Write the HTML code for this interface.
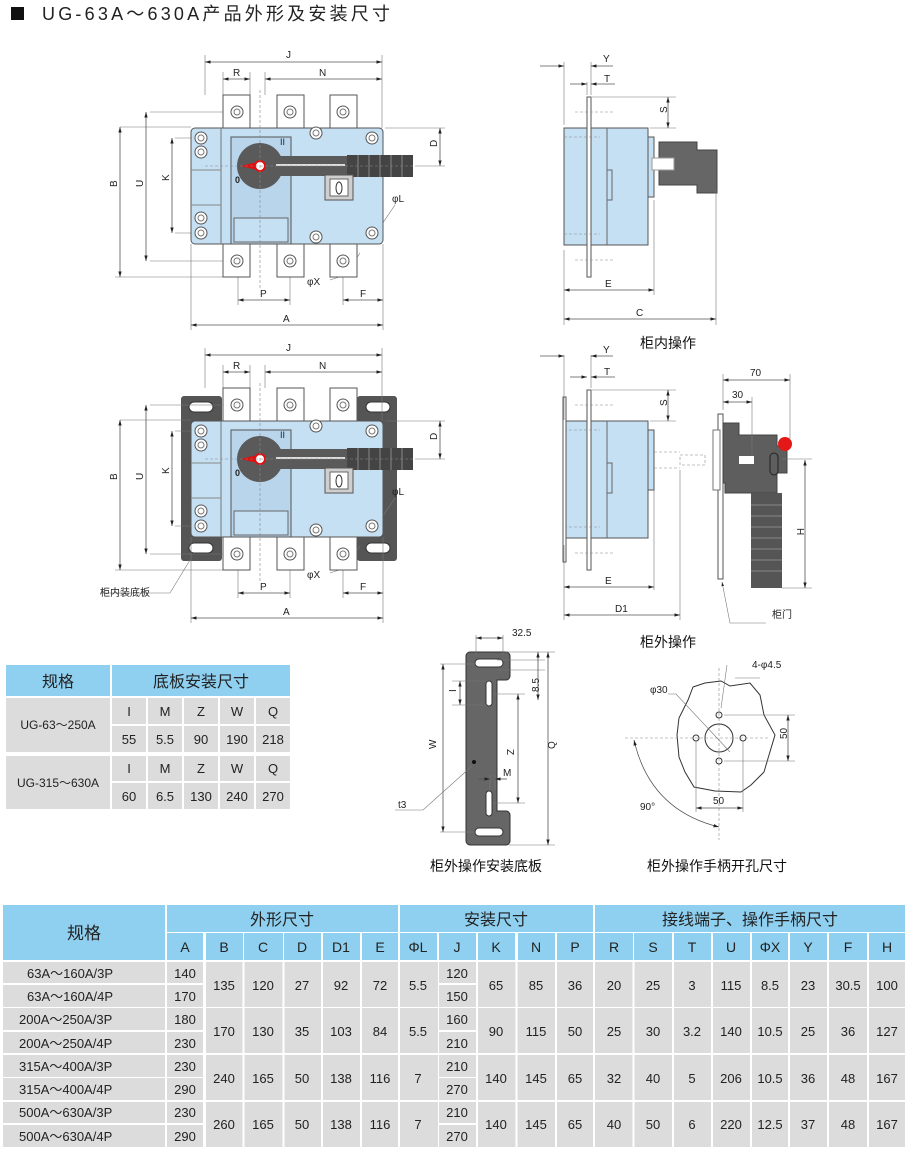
<!DOCTYPE html>
<html><head><meta charset="utf-8"><style>
body{margin:0;background:#fff;}
svg{display:block;font-family:"Liberation Sans","Noto Sans CJK SC",sans-serif;}
.d{stroke:#555;stroke-width:.8;fill:none}
.e{stroke:#777;stroke-width:.6;fill:none}
.c{stroke:#888;stroke-width:.6;stroke-dasharray:3 2;fill:none}
.t{font-size:10px;fill:#222}
.h{font-size:14px;fill:#111}
</style></head><body>
<svg width="910" height="1153" viewBox="0 0 910 1153" xmlns="http://www.w3.org/2000/svg">
<defs>
<marker id="a" viewBox="0 0 10 10" refX="10" refY="5" markerWidth="7" markerHeight="7" orient="auto-start-reverse"><path d="M0,2 L10,5 L0,8z" fill="#222"/></marker>
<g id="scr"><circle r="6" fill="#fff" stroke="#555"/><circle r="3" fill="none" stroke="#777"/></g>
<g id="front">
 <rect x="223" y="95" width="27" height="33" fill="#fff" stroke="#555"/>
 <rect x="277" y="95" width="27" height="33" fill="#fff" stroke="#555"/>
 <rect x="330" y="95" width="27" height="33" fill="#fff" stroke="#555"/>
 <rect x="223" y="244" width="27" height="33" fill="#fff" stroke="#555"/>
 <rect x="277" y="244" width="27" height="33" fill="#fff" stroke="#555"/>
 <rect x="330" y="244" width="27" height="33" fill="#fff" stroke="#555"/>
 <use href="#scr" x="237" y="112"/><use href="#scr" x="290" y="112"/><use href="#scr" x="343" y="112"/>
 <use href="#scr" x="237" y="261"/><use href="#scr" x="290" y="261"/><use href="#scr" x="343" y="261"/>
 <rect x="191" y="128" width="192" height="116" rx="4" fill="#c5dff3" stroke="#555"/>
 <line x1="221" y1="128" x2="221" y2="244" stroke="#777"/>
 <line x1="191" y1="170" x2="221" y2="170" stroke="#888"/>
 <line x1="191" y1="205" x2="221" y2="205" stroke="#888"/>
 <rect x="231" y="137" width="60" height="107" fill="#b9d5ec" stroke="#555"/>
 <rect x="234" y="218" width="54" height="24" fill="#c5dff3" stroke="#666"/>
 <circle cx="260" cy="166" r="23" fill="#5a5a5a"/>
 <rect x="260" y="156" width="90" height="20" fill="#5a5a5a"/>
 <line x1="276" y1="165" x2="345" y2="165" stroke="#ddd" stroke-width="2"/>
 <rect x="347" y="155" width="66" height="22" fill="#444"/>
 <path d="M358 155V177M369 155V177M380 155V177M391 155V177M402 155V177" stroke="#888"/>
 <polygon points="240,166 258,162 258,170" fill="#e01010"/>
 <circle cx="260" cy="166" r="5" fill="#fff" stroke="#e01010" stroke-width="2"/>
 <rect x="325" y="175" width="28" height="25" fill="#cfcfcf" stroke="#555"/>
 <rect x="330" y="179" width="18" height="17" fill="#fff" stroke="#666"/>
 <ellipse cx="339" cy="188" rx="3" ry="6" fill="none" stroke="#333"/>
 <use href="#scr" x="201" y="138"/><use href="#scr" x="201" y="152"/><use href="#scr" x="201" y="218"/><use href="#scr" x="201" y="233"/>
 <use href="#scr" x="316" y="133"/><use href="#scr" x="372" y="138"/><use href="#scr" x="316" y="237"/><use href="#scr" x="372" y="233"/>
 <line x1="260" y1="90" x2="260" y2="290" class="c"/>
 <line x1="205" y1="166" x2="415" y2="166" class="c"/>
</g>
<g id="fdim">
 <path d="M205 55V95M382 55V128M223 72V95M250 72V95M265 72V95M191 127H120M175 138H200M150 112H230M115 277H230M150 261H230M175 233H200M385 128H445M415 166H445M238 277V305M290 277V305M343 277V305M383 244V330M191 244V330" class="e"/>
 <line x1="205" y1="62" x2="382" y2="62" class="d" marker-start="url(#a)" marker-end="url(#a)"/>
 <line x1="223" y1="79" x2="250" y2="79" class="d" marker-start="url(#a)" marker-end="url(#a)"/>
 <line x1="265" y1="79" x2="382" y2="79" class="d" marker-start="url(#a)" marker-end="url(#a)"/>
 <line x1="120" y1="127" x2="120" y2="277" class="d" marker-start="url(#a)" marker-end="url(#a)"/>
 <line x1="146" y1="112" x2="146" y2="261" class="d" marker-start="url(#a)" marker-end="url(#a)"/>
 <line x1="172" y1="138" x2="172" y2="233" class="d" marker-start="url(#a)" marker-end="url(#a)"/>
 <line x1="440" y1="128" x2="440" y2="166" class="d" marker-start="url(#a)" marker-end="url(#a)"/>
 <line x1="238" y1="300" x2="290" y2="300" class="d" marker-start="url(#a)" marker-end="url(#a)"/>
 <line x1="343" y1="300" x2="383" y2="300" class="d" marker-start="url(#a)" marker-end="url(#a)"/>
 <line x1="191" y1="325" x2="383" y2="325" class="d" marker-start="url(#a)" marker-end="url(#a)"/>
 <path d="M395 205L378 230M360 253L345 275L330 280" class="e"/>
</g>
<g id="side">
 <rect x="564" y="128" width="84" height="117" fill="#c5dff3" stroke="#555"/>
 <path d="M607 128V245M607 170h5v30h-5" stroke="#666" fill="none"/>
 <rect x="587" y="97" width="4" height="180" fill="#fff" stroke="#555"/>
 <line x1="564" y1="137" x2="600" y2="137" class="c"/><line x1="564" y1="234" x2="600" y2="234" class="c"/>
 <line x1="575" y1="112" x2="615" y2="112" class="c"/><line x1="575" y1="260" x2="615" y2="260" class="c"/>
 <rect x="648" y="137" width="6" height="60" fill="#c5dff3" stroke="#555"/>
</g>
</defs>

<!-- title -->
<rect x="11" y="7" width="13" height="13" fill="#111"/>
<text x="42" y="20" font-size="18" fill="#222" textLength="348" lengthAdjust="spacing">UG-63A～630A产品外形及安装尺寸</text>

<!-- front view 1 -->
<use href="#fdim"/>
<use href="#front"/>
<g class="t">
<text x="286" y="58">J</text><text x="233" y="76">R</text><text x="319" y="76">N</text>
<text x="114" y="190" transform="rotate(-90 114 187)">B</text>
<text x="140" y="190" transform="rotate(-90 140 187)">U</text>
<text x="166" y="184" transform="rotate(-90 166 181)">K</text>
<text x="434" y="150" transform="rotate(-90 434 147)">D</text>
<text x="260" y="297">P</text><text x="360" y="297">F</text><text x="283" y="322">A</text>
<text x="392" y="202">φL</text><text x="307" y="285">φX</text>
<text x="280" y="145" font-size="9">II</text><text x="235" y="183" font-size="9" font-weight="bold">0</text>
</g>

<!-- front view 2 -->
<g transform="translate(0,293)">
<rect x="181" y="103" width="41" height="165" rx="3" fill="#555"/>
<rect x="357" y="103" width="40" height="165" rx="3" fill="#555"/>
<rect x="189" y="109" width="24" height="10" rx="5" fill="#fff" stroke="#333"/>
<rect x="189" y="250" width="24" height="10" rx="5" fill="#fff" stroke="#333"/>
<rect x="366" y="109" width="24" height="10" rx="5" fill="#fff" stroke="#333"/>
<rect x="366" y="250" width="24" height="10" rx="5" fill="#fff" stroke="#333"/>
<use href="#fdim"/>
<use href="#front"/>
<g class="t">
<text x="286" y="58">J</text><text x="233" y="76">R</text><text x="319" y="76">N</text>
<text x="114" y="190" transform="rotate(-90 114 187)">B</text>
<text x="140" y="190" transform="rotate(-90 140 187)">U</text>
<text x="166" y="184" transform="rotate(-90 166 181)">K</text>
<text x="434" y="150" transform="rotate(-90 434 147)">D</text>
<text x="260" y="297">P</text><text x="360" y="297">F</text><text x="283" y="322">A</text>
<text x="392" y="202">φL</text><text x="307" y="285">φX</text>
<text x="280" y="145" font-size="9">II</text><text x="235" y="183" font-size="9" font-weight="bold">0</text>
</g>
<path d="M190 267L170 300H100" class="e"/>
</g>
<text x="100" y="596" class="t" font-size="11">柜内装底板</text>

<!-- side view 1 -->
<use href="#side"/>
<path d="M659 142h38v8h20v43h-20v-8h-38z" fill="#666" stroke="#444"/>
<rect x="652" y="158" width="22" height="12" fill="#fff" stroke="#999"/>
<path d="M564 62V125M591 62V95M587 82V95M592 97H676M650 128H676M564 250V325M654 200V295M716 190V325" class="e"/>
<line x1="540" y1="66" x2="564" y2="66" class="d" marker-end="url(#a)"/><line x1="613" y1="66" x2="591" y2="66" class="d" marker-end="url(#a)"/>
<line x1="570" y1="84" x2="587" y2="84" class="d" marker-end="url(#a)"/><line x1="615" y1="84" x2="591" y2="84" class="d" marker-end="url(#a)"/>
<line x1="668" y1="97" x2="668" y2="128" class="d" marker-start="url(#a)" marker-end="url(#a)"/>
<line x1="564" y1="290" x2="654" y2="290" class="d" marker-start="url(#a)" marker-end="url(#a)"/>
<line x1="564" y1="319" x2="716" y2="319" class="d" marker-start="url(#a)" marker-end="url(#a)"/>
<g class="t"><text x="603" y="62">Y</text><text x="604" y="82">T</text><text x="664" y="116" transform="rotate(-90 664 113)">S</text>
<text x="605" y="287">E</text><text x="636" y="316">C</text></g>
<text x="640" y="348" class="h" font-size="13">柜内操作</text>

<!-- side view 2 -->
<g transform="translate(0,293)"><use href="#side"/></g>
<rect x="563" y="397" width="3" height="165" fill="#fff" stroke="#555"/>
<path d="M654 452H680M654 468H680M680 455h25v10h-25z" class="c"/>
<path d="M564 355V420M591 355V388M564 545V620M654 490V590M680 470V620" class="e"/>
<line x1="540" y1="356" x2="564" y2="356" class="d" marker-end="url(#a)"/><line x1="613" y1="356" x2="591" y2="356" class="d" marker-end="url(#a)"/>
<line x1="570" y1="377" x2="587" y2="377" class="d" marker-end="url(#a)"/><line x1="615" y1="377" x2="591" y2="377" class="d" marker-end="url(#a)"/>
<path d="M592 390H676M650 421H676" class="e"/>
<line x1="668" y1="390" x2="668" y2="421" class="d" marker-start="url(#a)" marker-end="url(#a)"/>
<line x1="564" y1="587" x2="654" y2="587" class="d" marker-start="url(#a)" marker-end="url(#a)"/>
<line x1="564" y1="615" x2="680" y2="615" class="d" marker-start="url(#a)" marker-end="url(#a)"/>
<g class="t"><text x="603" y="353">Y</text><text x="604" y="375">T</text><text x="664" y="409" transform="rotate(-90 664 406)">S</text>
<text x="605" y="584">E</text><text x="615" y="612">D1</text></g>
<text x="640" y="647" class="h" font-size="13">柜外操作</text>

<!-- external handle -->
<rect x="718" y="414" width="5" height="165" fill="#fff" stroke="#555"/>
<rect x="713" y="430" width="7" height="60" fill="#fff" stroke="#777"/>
<path d="M723 423h16v12h38v11h10v27h-10v20h-52v-10h-2z" fill="#5e5e5e" stroke="#444"/>
<rect x="739" y="456" width="15" height="8" fill="#fff"/>
<rect x="770" y="453" width="8" height="22" rx="4" fill="none" stroke="#222"/>
<circle cx="785" cy="444" r="7" fill="#e41818"/>
<rect x="751" y="493" width="31" height="95" fill="#555"/>
<path d="M751 505H782M751 516H782M751 527H782M751 538H782M751 549H782M751 560H782M751 571H782" stroke="#888"/>
<path d="M723 374V410M790 374V440M752 397V455M782 459H812M782 588H812" class="e"/>
<line x1="723" y1="380" x2="790" y2="380" class="d" marker-start="url(#a)" marker-end="url(#a)"/>
<line x1="723" y1="402" x2="752" y2="402" class="d" marker-start="url(#a)" marker-end="url(#a)"/>
<line x1="805" y1="460" x2="805" y2="588" class="d" marker-start="url(#a)" marker-end="url(#a)"/>
<path d="M766 623H730L722 582" class="e" marker-end="url(#a)"/>
<g class="t"><text x="750" y="376">70</text><text x="732" y="398">30</text>
<text x="800" y="531" transform="rotate(90 800 528)">H</text><text x="772" y="618">柜门</text></g>

<!-- mounting plate -->
<path d="M470 652h36a4 4 0 0 1 4 4v20a4 4 0 0 1-4 4h-9v131h9a4 4 0 0 1 4 4v26a4 4 0 0 1-4 4h-36a4 4 0 0 1-4-4v-185a4 4 0 0 1 4-4z" fill="#666" stroke="#333"/>
<rect x="475" y="659" width="28" height="8" rx="4" fill="#fff" stroke="#333"/>
<rect x="475" y="828" width="28" height="8" rx="4" fill="#fff" stroke="#333"/>
<rect x="486" y="681" width="6" height="25" rx="3" fill="#fff" stroke="#333"/>
<rect x="486" y="791" width="6" height="25" rx="3" fill="#fff" stroke="#333"/>
<circle cx="474" cy="762" r="2" fill="#111"/>
<path d="M476 635V655M503 635V655M505 652H555M497 660H545M497 670H545M440 664H475M452 681H488M452 705H488M493 694H525M493 803H525M440 832H475M509 845H555M490 775V790M495 775V790" class="e"/>
<line x1="476" y1="638" x2="503" y2="638" class="d" marker-start="url(#a)" marker-end="url(#a)"/>
<line x1="538" y1="652" x2="538" y2="700" class="d" marker-start="url(#a)" marker-end="url(#a)"/>
<line x1="548" y1="652" x2="548" y2="845" class="d" marker-start="url(#a)" marker-end="url(#a)"/>
<line x1="443" y1="664" x2="443" y2="832" class="d" marker-start="url(#a)" marker-end="url(#a)"/>
<line x1="460" y1="681" x2="460" y2="705" class="d" marker-start="url(#a)" marker-end="url(#a)"/>
<line x1="518" y1="694" x2="518" y2="803" class="d" marker-start="url(#a)" marker-end="url(#a)"/>
<line x1="478" y1="779" x2="490" y2="779" class="d" marker-end="url(#a)"/><line x1="507" y1="779" x2="495" y2="779" class="d" marker-end="url(#a)"/>
<path d="M472 766L423 810H395" class="e"/>
<g class="t"><text x="512" y="636">32.5</text><text x="536" y="695" transform="rotate(-90 536 692)">8.5</text>
<text x="433" y="752" transform="rotate(-90 433 749)">W</text><text x="453" y="695" transform="rotate(-90 453 692)">I</text>
<text x="510" y="752" transform="rotate(90 510 749)">Z</text><text x="552" y="752" transform="rotate(-90 552 749)">Q</text>
<text x="503" y="776">M</text><text x="398" y="808">t3</text></g>
<text x="430" y="871" class="h" font-size="13">柜外操作安装底板</text>

<!-- handle cutout -->
<path d="M693 687L705 683L721 681L730 686L750 683L760 695L764 715L775 735L769 755L764 772L751 785L741 792L715 791L694 787L685 772L679 757L677 735L679 718L688 700z" fill="#fff" stroke="#333"/>
<circle cx="719" cy="738" r="14" fill="#fff" stroke="#333"/>
<circle cx="719" cy="715" r="3" fill="#fff" stroke="#333"/><circle cx="719" cy="761" r="3" fill="#fff" stroke="#333"/>
<circle cx="696" cy="738" r="3" fill="#fff" stroke="#333"/><circle cx="743" cy="738" r="3" fill="#fff" stroke="#333"/>
<path d="M719 668V840M625 738H770" class="c"/>
<path d="M724 715H795M724 761H795M696 741V812M743 741V812M668 694H676L730 752M735 678H760M727 665L721 708" class="e"/>
<line x1="788" y1="715" x2="788" y2="761" class="d" marker-start="url(#a)" marker-end="url(#a)"/>
<line x1="696" y1="808" x2="743" y2="808" class="d" marker-start="url(#a)" marker-end="url(#a)"/>
<path d="M634 740Q650 810 719 827" class="d" marker-start="url(#a)" marker-end="url(#a)"/>
<g class="t"><text x="650" y="693">φ30</text><text x="752" y="668">4-φ4.5</text>
<text x="784" y="742" transform="rotate(-90 784 739)">50</text><text x="713" y="804">50</text><text x="640" y="810">90°</text></g>
<text x="647" y="871" class="h" font-size="13">柜外操作手柄开孔尺寸</text>

<!-- small table -->
<g font-size="12" fill="#222" text-anchor="middle">
<rect x="6" y="665" width="104" height="31" fill="#8fd0f0"/><rect x="112" y="665" width="178" height="31" fill="#8fd0f0"/>
<text x="58" y="687" font-size="16">规格</text><text x="201" y="687" font-size="16">底板安装尺寸</text>
<rect x="6" y="698" width="104" height="54" fill="#dcdcdc"/><rect x="6" y="756" width="104" height="53" fill="#dcdcdc"/>
<text x="58" y="729">UG-63～250A</text><text x="58" y="787">UG-315～630A</text>
<g fill="#dcdcdc">
<rect x="112" y="698" width="34" height="26"/><rect x="148" y="698" width="34" height="26"/><rect x="184" y="698" width="34" height="26"/><rect x="220" y="698" width="34" height="26"/><rect x="256" y="698" width="34" height="26"/>
<rect x="112" y="726" width="34" height="26"/><rect x="148" y="726" width="34" height="26"/><rect x="184" y="726" width="34" height="26"/><rect x="220" y="726" width="34" height="26"/><rect x="256" y="726" width="34" height="26"/>
<rect x="112" y="756" width="34" height="25"/><rect x="148" y="756" width="34" height="25"/><rect x="184" y="756" width="34" height="25"/><rect x="220" y="756" width="34" height="25"/><rect x="256" y="756" width="34" height="25"/>
<rect x="112" y="783" width="34" height="26"/><rect x="148" y="783" width="34" height="26"/><rect x="184" y="783" width="34" height="26"/><rect x="220" y="783" width="34" height="26"/><rect x="256" y="783" width="34" height="26"/>
</g>
<g font-size="13">
<text x="129" y="716">I</text><text x="165" y="716">M</text><text x="201" y="716">Z</text><text x="237" y="716">W</text><text x="273" y="716">Q</text>
<text x="129" y="744">55</text><text x="165" y="744">5.5</text><text x="201" y="744">90</text><text x="237" y="744">190</text><text x="273" y="744">218</text>
<text x="129" y="773">I</text><text x="165" y="773">M</text><text x="201" y="773">Z</text><text x="237" y="773">W</text><text x="273" y="773">Q</text>
<text x="129" y="801">60</text><text x="165" y="801">6.5</text><text x="201" y="801">130</text><text x="237" y="801">240</text><text x="273" y="801">270</text>
</g>
</g>

<!-- big table -->
<g font-size="13" fill="#222" text-anchor="middle">
<rect x="3" y="905" width="162" height="55" fill="#8fd0f0"/>
<rect x="167" y="905" width="231" height="27" fill="#8fd0f0"/>
<rect x="400" y="905" width="193" height="27" fill="#8fd0f0"/>
<rect x="595" y="905" width="310" height="27" fill="#8fd0f0"/>
<text x="84" y="939" font-size="17">规格</text><text x="282" y="925" font-size="16">外形尺寸</text><text x="496" y="925" font-size="16">安装尺寸</text><text x="750" y="925" font-size="16">接线端子、操作手柄尺寸</text>
<g fill="#8fd0f0">
<rect x="167" y="933" width="36" height="27"/><rect x="206" y="933" width="37" height="27"/><rect x="244" y="933" width="39" height="27"/><rect x="284" y="933" width="37" height="27"/><rect x="323" y="933" width="37" height="27"/><rect x="362" y="933" width="36" height="27"/><rect x="400" y="933" width="37" height="27"/><rect x="439" y="933" width="37" height="27"/><rect x="478" y="933" width="37" height="27"/><rect x="518" y="933" width="37" height="27"/><rect x="557" y="933" width="36" height="27"/><rect x="595" y="933" width="38" height="27"/><rect x="634" y="933" width="38" height="27"/><rect x="674" y="933" width="37" height="27"/><rect x="713" y="933" width="37" height="27"/><rect x="752" y="933" width="36" height="27"/><rect x="790" y="933" width="37" height="27"/><rect x="829" y="933" width="38" height="27"/><rect x="869" y="933" width="36" height="27"/>
</g>
<g font-size="14">
<text x="185" y="952">A</text><text x="224" y="952">B</text><text x="263" y="952">C</text><text x="302" y="952">D</text><text x="341" y="952">D1</text><text x="380" y="952">E</text><text x="418" y="952">ΦL</text><text x="457" y="952">J</text><text x="496" y="952">K</text><text x="536" y="952">N</text><text x="575" y="952">P</text><text x="614" y="952">R</text><text x="653" y="952">S</text><text x="692" y="952">T</text><text x="731" y="952">U</text><text x="770" y="952">ΦX</text><text x="808" y="952">Y</text><text x="848" y="952">F</text><text x="887" y="952">H</text>
</g>
<g fill="#dcdcdc">
<rect x="3" y="962" width="162" height="21"/><rect x="3" y="985" width="162" height="22"/>
<rect x="3" y="1008" width="162" height="22"/><rect x="3" y="1032" width="162" height="21"/>
<rect x="3" y="1055" width="162" height="22"/><rect x="3" y="1078" width="162" height="22"/>
<rect x="3" y="1102" width="162" height="21"/><rect x="3" y="1125" width="162" height="22"/>
<rect x="167" y="962" width="36" height="21"/><rect x="167" y="985" width="36" height="22"/>
<rect x="167" y="1008" width="36" height="22"/><rect x="167" y="1032" width="36" height="21"/>
<rect x="167" y="1055" width="36" height="22"/><rect x="167" y="1078" width="36" height="22"/>
<rect x="167" y="1102" width="36" height="21"/><rect x="167" y="1125" width="36" height="22"/>
<rect x="439" y="962" width="37" height="21"/><rect x="439" y="985" width="37" height="22"/>
<rect x="439" y="1008" width="37" height="22"/><rect x="439" y="1032" width="37" height="21"/>
<rect x="439" y="1055" width="37" height="22"/><rect x="439" y="1078" width="37" height="22"/>
<rect x="439" y="1102" width="37" height="21"/><rect x="439" y="1125" width="37" height="22"/>
</g>
<g fill="#dcdcdc">
<rect x="206" y="962" width="232" height="45"/><rect x="478" y="962" width="427" height="45"/>
<rect x="206" y="1008" width="232" height="45"/><rect x="478" y="1008" width="427" height="45"/>
<rect x="206" y="1055" width="232" height="45"/><rect x="478" y="1055" width="427" height="45"/>
<rect x="206" y="1102" width="232" height="45"/><rect x="478" y="1102" width="427" height="45"/>
</g>
<g stroke="#fff" stroke-width="2">
<path d="M205 962V1147M243.5 962V1147M283.5 962V1147M322 962V1147M361 962V1147M399 962V1147M477 962V1147M516.5 962V1147M556 962V1147M594 962V1147M633.5 962V1147M673 962V1147M712 962V1147M751 962V1147M789 962V1147M828 962V1147M868 962V1147"/>
</g>
<g font-size="13" text-anchor="start"><text x="27" y="978">63A～160A/3P</text><text x="27" y="1001">63A～160A/4P</text><text x="19" y="1024">200A～250A/3P</text><text x="19" y="1048">200A～250A/4P</text><text x="19" y="1071">315A～400A/3P</text><text x="19" y="1094">315A～400A/4P</text><text x="19" y="1117">500A～630A/3P</text><text x="19" y="1141">500A～630A/4P</text></g>
<text x="185" y="978">140</text><text x="185" y="1001">170</text><text x="185" y="1024">180</text><text x="185" y="1048">230</text><text x="185" y="1071">230</text><text x="185" y="1094">290</text><text x="185" y="1117">230</text><text x="185" y="1141">290</text>
<text x="457" y="978">120</text><text x="457" y="1001">150</text><text x="457" y="1024">160</text><text x="457" y="1048">210</text><text x="457" y="1071">210</text><text x="457" y="1094">270</text><text x="457" y="1117">210</text><text x="457" y="1141">270</text>
<g>
<text x="224" y="990">135</text><text x="263" y="990">120</text><text x="302" y="990">27</text><text x="341" y="990">92</text><text x="380" y="990">72</text><text x="418" y="990">5.5</text><text x="496" y="990">65</text><text x="536" y="990">85</text><text x="575" y="990">36</text><text x="614" y="990">20</text><text x="653" y="990">25</text><text x="692" y="990">3</text><text x="731" y="990">115</text><text x="770" y="990">8.5</text><text x="808" y="990">23</text><text x="848" y="990">30.5</text><text x="887" y="990">100</text>
<text x="224" y="1036">170</text><text x="263" y="1036">130</text><text x="302" y="1036">35</text><text x="341" y="1036">103</text><text x="380" y="1036">84</text><text x="418" y="1036">5.5</text><text x="496" y="1036">90</text><text x="536" y="1036">115</text><text x="575" y="1036">50</text><text x="614" y="1036">25</text><text x="653" y="1036">30</text><text x="692" y="1036">3.2</text><text x="731" y="1036">140</text><text x="770" y="1036">10.5</text><text x="808" y="1036">25</text><text x="848" y="1036">36</text><text x="887" y="1036">127</text>
<text x="224" y="1083">240</text><text x="263" y="1083">165</text><text x="302" y="1083">50</text><text x="341" y="1083">138</text><text x="380" y="1083">116</text><text x="418" y="1083">7</text><text x="496" y="1083">140</text><text x="536" y="1083">145</text><text x="575" y="1083">65</text><text x="614" y="1083">32</text><text x="653" y="1083">40</text><text x="692" y="1083">5</text><text x="731" y="1083">206</text><text x="770" y="1083">10.5</text><text x="808" y="1083">36</text><text x="848" y="1083">48</text><text x="887" y="1083">167</text>
<text x="224" y="1129">260</text><text x="263" y="1129">165</text><text x="302" y="1129">50</text><text x="341" y="1129">138</text><text x="380" y="1129">116</text><text x="418" y="1129">7</text><text x="496" y="1129">140</text><text x="536" y="1129">145</text><text x="575" y="1129">65</text><text x="614" y="1129">40</text><text x="653" y="1129">50</text><text x="692" y="1129">6</text><text x="731" y="1129">220</text><text x="770" y="1129">12.5</text><text x="808" y="1129">37</text><text x="848" y="1129">48</text><text x="887" y="1129">167</text>
</g>
</g>
</svg>
</body></html>
